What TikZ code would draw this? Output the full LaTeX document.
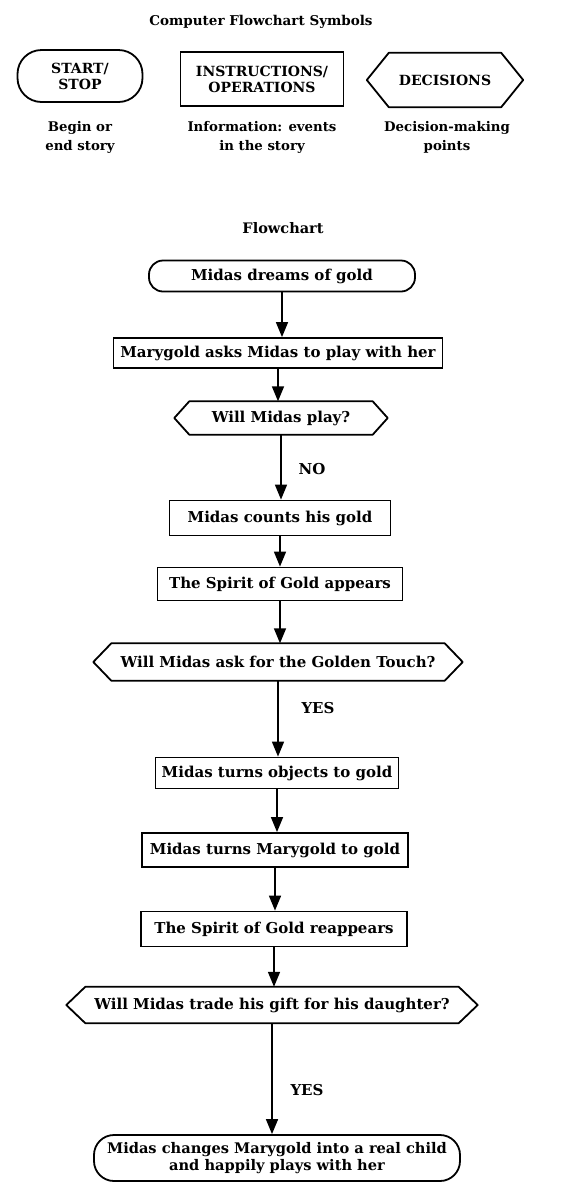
\documentclass[tikz,border=0pt]{standalone}
\usepackage{fontspec}
\setmainfont{DejaVu Serif}
\usetikzlibrary{arrows.meta}

\tikzset{
  flowtext/.style={font=\bfseries\fontsize{15}{16}\selectfont, inner sep=0pt, align=center},
  symtext/.style={font=\bfseries\fontsize{14}{16}\selectfont, inner sep=0pt, align=center},
  captext/.style={font=\bfseries\fontsize{13.3}{19}\selectfont, inner sep=0pt, align=center},
  startbox/.style={draw, line width=1.8pt, rounded corners=#1},
  opbox/.style={draw, line width=1.8pt},
  answer/.style={flowtext},
  flowarrow/.style={line width=1.6pt, -{Triangle[width=12pt,length=15pt]}},
}

\begin{document}
\begin{tikzpicture}[x=1pt,y=-1pt]
  \useasboundingbox (0,0) rectangle (568,1187);

  % --- 1. Symbols legend ---
  \node[captext, font=\bfseries\fontsize{13.5}{16}\selectfont] (title) at (261,22) {Computer Flowchart Symbols};

  \node[symtext, startbox=24pt, minimum width=125pt, minimum height=52pt] (startsym) at (80,76) {START/\\STOP};
  \node[symtext, opbox, minimum width=163pt, minimum height=54pt] (instrsym) at (262,79) {INSTRUCTIONS/\\OPERATIONS};
  \node[symtext, minimum width=112pt, minimum height=54pt] (decsym) at (445,80) {DECISIONS};

  \node[captext] (startcap) at (80,137) {Begin or\\end story};
  \node[captext] (instrcap) at (262,137) {Information: events\\in the story};
  \node[captext] (deccap) at (447,137) {Decision-making\\points};

  % --- 2. Flowchart nodes ---
  \node[captext, font=\bfseries\fontsize{14.5}{16}\selectfont] (flowtitle) at (283,228) {Flowchart};

  \node[flowtext, startbox=14pt, minimum width=266pt, minimum height=31pt] (dreams) at (282,276) {Midas dreams of gold};
  \node[flowtext, opbox, minimum width=329pt, minimum height=30pt] (asks) at (278,353) {Marygold asks Midas to play with her};
  \node[flowtext, minimum width=183pt, minimum height=33pt] (play) at (281,418) {Will Midas play?};
  \node[flowtext, opbox, minimum width=221pt, minimum height=35pt] (counts) at (280,518) {Midas counts his gold};
  \node[flowtext, opbox, minimum width=245pt, minimum height=33pt] (appears) at (280,584) {The Spirit of Gold appears};
  \node[flowtext, minimum width=333pt, minimum height=37pt] (touch) at (278,662) {Will Midas ask for the Golden Touch?};
  \node[flowtext, opbox, minimum width=243pt, minimum height=31pt] (objects) at (277,773) {Midas turns objects to gold};
  \node[flowtext, opbox, minimum width=266pt, minimum height=34pt] (togold) at (275,850) {Midas turns Marygold to gold};
  \node[flowtext, opbox, minimum width=266pt, minimum height=35pt] (reappears) at (274,929) {The Spirit of Gold reappears};
  \node[flowtext, minimum width=373pt, minimum height=36pt] (trade) at (272,1005) {Will Midas trade his gift for his daughter?};
  \node[flowtext, font=\bfseries\fontsize{14.6}{16.5}\selectfont, startbox=20pt, minimum width=366pt, minimum height=46pt] (changes) at (277,1158) {Midas changes Marygold into a real child\\and happily plays with her};

  % --- 3. Decision outlines ---
  \foreach \n/\t in {decsym/22, play/15, touch/18, trade/19}
    \draw[line width=1.8pt, line join=round] (\n.north west) -- (\n.north east) -- ([xshift=\t pt]\n.east)
      -- (\n.south east) -- (\n.south west) -- ([xshift=-\t pt]\n.west) -- cycle;

  % --- 4. Arrows ---
  \foreach \a/\b in {dreams/asks, asks/play, play/counts, counts/appears, appears/touch,
                     touch/objects, objects/togold, togold/reappears, reappears/trade, trade/changes}
    \draw[flowarrow] (\a.south) -- (\a.south |- \b.north);

  \node[answer] (no) at (312,469) {NO};
  \node[answer] (yes) at (318,708) {YES};
  \node[answer] (yesb) at (307,1090) {YES};

\end{tikzpicture}
\end{document}
